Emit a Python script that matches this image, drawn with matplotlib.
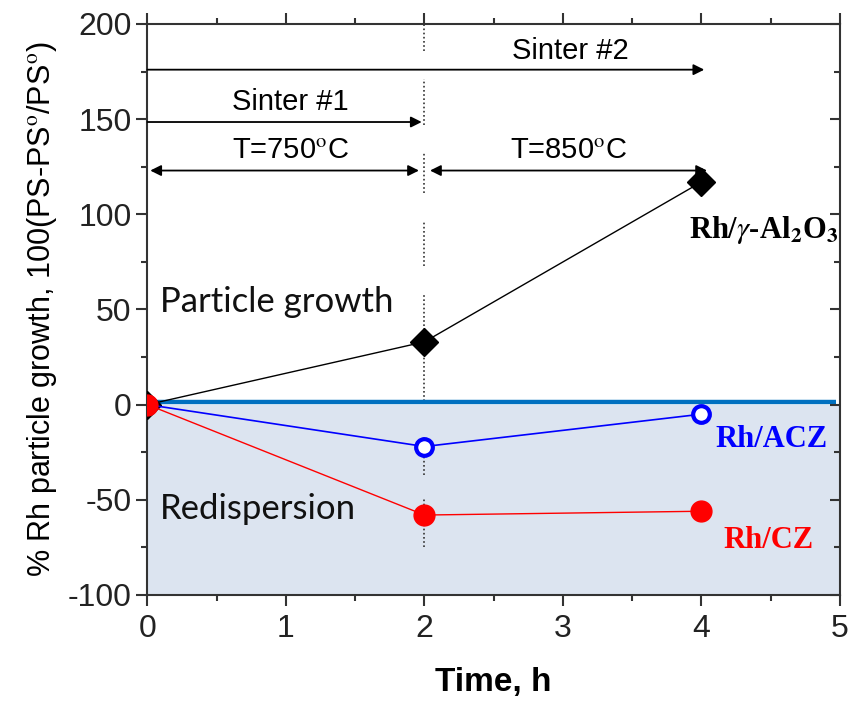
import numpy as np
import matplotlib
matplotlib.use("Agg")
import matplotlib.pyplot as plt
from matplotlib.ticker import MultipleLocator

plt.rcParams['font.family'] = ['Liberation Sans', 'DejaVu Sans']
plt.rcParams['mathtext.fontset'] = 'stix'
plt.rcParams['axes.unicode_minus'] = False

# data
time_h = [0, 2, 4]
rh_al2o3 = [0, 33, 117]
rh_acz = [0, -22, -5]
rh_cz = [0, -58, -56]

x_ticks = [0, 1, 2, 3, 4, 5]
y_ticks = [-100, -50, 0, 50, 100, 150, 200]

# dotted marker at t=2 h, broken where text / arrows sit
dot_segments = [(186, 200), (147, 171), (111, 133), (73, 96), (2, 58), (-37, -17), (-75, -49)]

fig = plt.figure(figsize=(8.56, 7.14), dpi=100)
ax = fig.add_axes([0.1723, 0.1667, 0.809, 0.7997])

ax.set_xlim(0, 5)
ax.set_ylim(-100, 200)

# shaded redispersion zone + zero line
ax.fill_between([0, 5], -100, 0, color='#dce4f0', zorder=0, lw=0)
ax.plot([0, 4.97], [1.5, 1.5], color='#0070c0', lw=3.2, zorder=2, solid_capstyle='butt')

for y0, y1 in dot_segments:
    ax.plot([2, 2], [y0, y1], color='#333333', lw=1.2, ls=(0, (1, 1.5)), zorder=1)

ax.plot(time_h, rh_al2o3, color='black', lw=1, marker='D', ms=14, mfc='black', mec='black', zorder=3)
ax.plot(time_h, rh_acz, color='#0000ff', lw=1.2, marker='o', ms=12, mfc='white', mec='#0000ff', mew=3, zorder=4)
ax.plot(time_h, rh_cz, color='#ff0000', lw=1, marker='o', ms=15, mfc='#ff0000', mec='#ff0000', zorder=5)

# arrows
def arrow(x0, x1, y, style):
    ax.annotate('', xy=(x1, y), xytext=(x0, y),
                arrowprops=dict(arrowstyle=style, color='black', lw=1.3,
                                mutation_scale=16, shrinkA=0, shrinkB=0))

arrow(0.0, 4.02, 176, '-|>')
arrow(0.0, 1.98, 148.5, '-|>')
arrow(0.02, 1.96, 123, '<|-|>')
arrow(2.04, 4.04, 123, '<|-|>')

ax.text(3.05, 186, 'Sinter #2', fontsize=21, ha='center', va='center')
ax.text(1.03, 159, 'Sinter #1', fontsize=21, ha='center', va='center')
ax.text(1.03, 134, 'T=750$^{\\rm o}$C', fontsize=21, ha='center', va='center')
ax.text(3.04, 134, 'T=850$^{\\rm o}$C', fontsize=21, ha='center', va='center')

ax.text(0.09, 54, 'Particle growth', fontsize=25, family='Lato', ha='left', va='center', color='#111111')
ax.text(0.09, -55, 'Redispersion', fontsize=25, family='Lato', ha='left', va='center', color='#111111')

serif = dict(family='Liberation Serif', weight='bold', fontsize=22, ha='left', va='center')
ax.text(3.91, 92, 'Rh/$\\gamma$-Al$_{\\mathbf{2}}$O$_{\\mathbf{3}}$', color='black', **serif)
ax.text(4.1, -18.5, 'Rh/ACZ', color='#0000ff', **serif)
ax.text(4.16, -71.5, 'Rh/CZ', color='#ff0000', **serif)

# axes styling
for s in ax.spines.values():
    s.set_linewidth(1.5)
    s.set_color('#333333')

ax.set_xticks(x_ticks)
ax.set_yticks(y_ticks)
ax.xaxis.set_minor_locator(MultipleLocator(0.5))
ax.yaxis.set_minor_locator(MultipleLocator(25))
ax.tick_params(axis='both', which='major', direction='out', length=8, width=1.5,
               labelsize=23, colors='#333333', labelcolor='#222222')
ax.tick_params(axis='both', which='minor', direction='out', length=4, width=1.5, colors='#333333')
ax.tick_params(axis='x', which='both', top=True)
ax.tick_params(axis='x', which='major', pad=6)

ax2 = ax.twinx()
ax2.set_ylim(-100, 200)
ax2.set_yticks(y_ticks)
ax2.yaxis.set_minor_locator(MultipleLocator(25))
ax2.tick_params(which='major', direction='in', length=7, width=1.5, labelright=False, colors='#333333')
ax2.tick_params(which='minor', direction='in', length=4, width=1.5, colors='#333333')
for s in ax2.spines.values():
    s.set_visible(False)

ax.set_xlabel('Time, h', fontsize=24, weight='bold', labelpad=16)
ax.set_ylabel('% Rh particle growth, 100(PS-PS$^{\\rm o}$/PS$^{\\rm o}$)', fontsize=22, labelpad=6)

fig.savefig('out.png', dpi=100)
